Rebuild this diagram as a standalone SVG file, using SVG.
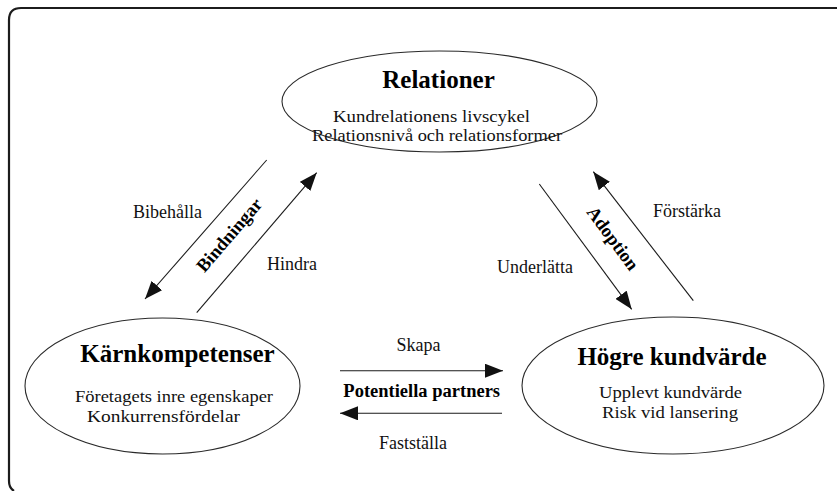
<svg xmlns="http://www.w3.org/2000/svg" width="837" height="491" viewBox="0 0 837 491">
  <style>
    .frame { fill: none; stroke: #1c1c1c; stroke-width: 2.2; }
    .node { fill: #ffffff; stroke: #2a2a2a; stroke-width: 1.1; }
    .title { font-family: "Liberation Serif", "Times New Roman", serif; font-weight: bold; font-size: 25px; fill: #000; text-anchor: middle; }
    .body { font-family: "Liberation Serif", "Times New Roman", serif; font-size: 16.5px; fill: #111; text-anchor: middle; }
    .lbl { font-family: "Liberation Serif", "Times New Roman", serif; font-size: 18px; fill: #111; }
    .blbl { font-family: "Liberation Serif", "Times New Roman", serif; font-weight: bold; font-size: 18.5px; fill: #000; text-anchor: middle; }
    .edge { fill: none; stroke: #1a1a1a; stroke-width: 1.1; marker-end: url(#head); }
  </style>
  <defs>
    <marker id="head" markerUnits="userSpaceOnUse" markerWidth="18" markerHeight="14" refX="18" refY="7" orient="auto">
      <path d="M0,0 L18,7 L0,14 z" fill="#111"/>
    </marker>
  </defs>

  <rect width="837" height="491" fill="#ffffff"/>

  <!-- outer frame, open to the right and bottom -->
  <path class="frame" d="M14,491 Q9,488 9,481 L9,20 Q9,8 21,8 L840,8"/>

  <!-- connectors -->
  <g id="connectors">
    <line class="edge" x1="266.7" y1="160" x2="145" y2="299"/>
    <line class="edge" x1="196.7" y1="312.7" x2="316.7" y2="172.7"/>
    <line class="edge" x1="539.3" y1="184" x2="631.7" y2="309.3"/>
    <line class="edge" x1="693.3" y1="300.7" x2="593.3" y2="171.7"/>
    <line class="edge" x1="340" y1="370.7" x2="503" y2="370.7"/>
    <line class="edge" x1="502" y1="413.3" x2="340" y2="413.3"/>

    <text class="lbl" x="133" y="218">Bibehålla</text>
    <text class="lbl" x="267" y="270">Hindra</text>
    <text class="blbl" transform="translate(234,239) rotate(-49.4)">Bindningar</text>

    <text class="lbl" x="497" y="273">Underlätta</text>
    <text class="lbl" x="653" y="217">Förstärka</text>
    <text class="blbl" transform="translate(608,242) rotate(53.6)">Adoption</text>

    <text class="lbl" x="418.5" y="350.7" text-anchor="middle">Skapa</text>
    <text class="blbl" x="421.7" y="396.7">Potentiella partners</text>
    <text class="lbl" x="413" y="449" text-anchor="middle">Fastställa</text>
  </g>

  <!-- top node -->
  <g id="relationer">
    <ellipse class="node" cx="439.5" cy="101.5" rx="157.5" ry="50.5"/>
    <text class="title" x="438.5" y="88">Relationer</text>
    <text class="body" x="431.5" y="122" textLength="197" lengthAdjust="spacingAndGlyphs">Kundrelationens livscykel</text>
    <text class="body" x="437" y="141" textLength="250" lengthAdjust="spacingAndGlyphs">Relationsnivå och relationsformer</text>
  </g>

  <!-- bottom-left node -->
  <g id="karnkompetenser">
    <ellipse class="node" cx="162.5" cy="386" rx="137.5" ry="68"/>
    <text class="title" x="177.5" y="362">Kärnkompetenser</text>
    <text class="body" x="174" y="401.7" textLength="198" lengthAdjust="spacingAndGlyphs">Företagets inre egenskaper</text>
    <text class="body" x="163.5" y="421.7" textLength="153" lengthAdjust="spacingAndGlyphs">Konkurrensfördelar</text>
  </g>

  <!-- bottom-right node -->
  <g id="hogre-kundvarde">
    <ellipse class="node" cx="673" cy="385.5" rx="151" ry="68.5"/>
    <text class="title" x="672" y="365">Högre kundvärde</text>
    <text class="body" x="670.5" y="398" textLength="143" lengthAdjust="spacingAndGlyphs">Upplevt kundvärde</text>
    <text class="body" x="670" y="418" textLength="136" lengthAdjust="spacingAndGlyphs">Risk vid lansering</text>
  </g>
</svg>
